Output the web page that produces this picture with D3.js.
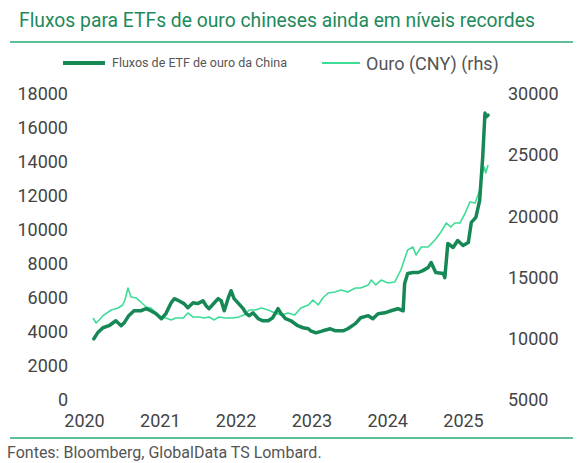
<!DOCTYPE html>
<html>
<head>
<meta charset="utf-8">
<script src="https://cdn.jsdelivr.net/npm/d3@7"></script>
<style>
  html, body { margin: 0; padding: 0; background: #fff; }
  svg { display: block; font-family: Roboto, "Noto Sans", sans-serif; }
</style>
</head>
<body>
<div id="chart"></div>
<script>
// China gold ETF flows (left axis), decimal year + value
var etfTime = [2020.13, 2020.18, 2020.25, 2020.33, 2020.42, 2020.49, 2020.53, 2020.59, 2020.66, 2020.75,
  2020.82, 2020.88, 2020.95, 2021.02, 2021.08, 2021.15, 2021.19, 2021.25, 2021.32, 2021.37,
  2021.44, 2021.50, 2021.57, 2021.61, 2021.65, 2021.72, 2021.77, 2021.81, 2021.85, 2021.90,
  2021.94, 2021.98, 2022.04, 2022.10, 2022.14, 2022.18, 2022.23, 2022.30, 2022.36, 2022.43,
  2022.49, 2022.56, 2022.60, 2022.66, 2022.73, 2022.82, 2022.89, 2022.96, 2022.99, 2023.06,
  2023.15, 2023.25, 2023.32, 2023.42, 2023.48, 2023.58, 2023.65, 2023.75, 2023.81, 2023.88,
  2023.97, 2024.05, 2024.14, 2024.21, 2024.23, 2024.27, 2024.34, 2024.41, 2024.47, 2024.54,
  2024.58, 2024.64, 2024.74, 2024.76, 2024.80, 2024.87, 2024.93, 2025.00, 2025.07, 2025.11,
  2025.17, 2025.22, 2025.26, 2025.29, 2025.30, 2025.33];
var etfValue = [3600, 3950, 4250, 4370, 4660, 4370, 4540, 4960, 5250, 5250,
  5370, 5250, 5080, 4780, 5080, 5720, 5960, 5840, 5670, 5430,
  5720, 5670, 5840, 5550, 5370, 5720, 5960, 5840, 5250, 5960,
  6430, 5960, 5670, 5370, 5080, 4960, 5130, 4780, 4660, 4660,
  4840, 5370, 5080, 4780, 4660, 4370, 4250, 4190, 4070, 3950,
  4070, 4190, 4070, 4070, 4190, 4490, 4840, 4960, 4780, 5080,
  5130, 5250, 5370, 5250, 6850, 7440, 7500, 7500, 7610, 7790,
  8090, 7500, 7440, 7200, 9210, 8970, 9380, 9090, 9270, 10450,
  10740, 11740, 14280, 16880, 16640, 16760];

// Gold price in CNY (right axis)
var goldTime = [2020.12, 2020.16, 2020.20, 2020.26, 2020.36, 2020.45, 2020.51, 2020.54, 2020.58, 2020.62,
  2020.69, 2020.75, 2020.82, 2020.88, 2020.95, 2021.02, 2021.08, 2021.15, 2021.21, 2021.31,
  2021.37, 2021.44, 2021.52, 2021.58, 2021.65, 2021.72, 2021.78, 2021.87, 2021.97, 2022.04,
  2022.11, 2022.18, 2022.26, 2022.34, 2022.43, 2022.52, 2022.60, 2022.69, 2022.78, 2022.86,
  2022.96, 2023.02, 2023.09, 2023.15, 2023.22, 2023.31, 2023.39, 2023.48, 2023.58, 2023.65,
  2023.75, 2023.79, 2023.85, 2023.92, 2024.01, 2024.10, 2024.18, 2024.27, 2024.34, 2024.38,
  2024.45, 2024.54, 2024.63, 2024.70, 2024.78, 2024.84, 2024.89, 2024.96, 2025.03, 2025.09,
  2025.16, 2025.22, 2025.24, 2025.28, 2025.30, 2025.33];
var goldValue = [11700, 11290, 11540, 11940, 12350, 12520, 12760, 13170, 14150, 13420,
  13330, 13010, 12600, 12520, 12110, 11780, 11700, 11540, 11700, 11700,
  12110, 11780, 11780, 11700, 11780, 11540, 11780, 11700, 11700, 11780,
  11940, 12350, 12350, 12520, 12350, 12110, 11940, 12110, 11940, 12520,
  12760, 13170, 12760, 13330, 13740, 13820, 13990, 13820, 14150, 14150,
  14400, 14800, 14400, 14800, 14560, 14640, 15620, 17260, 17500, 16850,
  17500, 17500, 18070, 18640, 19460, 19130, 19460, 19460, 20280, 21180,
  21100, 22160, 23220, 24040, 23550, 24200];

var years = [2020, 2021, 2022, 2023, 2024, 2025];
var leftTicks = [0, 2000, 4000, 6000, 8000, 10000, 12000, 14000, 16000, 18000];
var rightTicks = [5000, 10000, 15000, 20000, 25000, 30000];

var titleText = "Fluxos para ETFs de ouro chineses ainda em níveis recordes";
var legendEtf = "Fluxos de ETF de ouro da China";
var legendGold = "Ouro (CNY) (rhs)";
var sourceText = "Fontes: Bloomberg, GlobalData TS Lombard.";

var width = 585, height = 463;
var darkGreen = "#158856", lightGreen = "#3ddc97", ruleGreen = "#5fbf98", labelColor = "#444";

var svg = d3.select("#chart").append("svg")
  .attr("width", width)
  .attr("height", height);

// scales
var x = d3.scaleLinear().domain([2020, 2025]).range([84, 463]);
var yLeft = d3.scaleLinear().domain([0, 18000]).range([400, 94]);
var yRight = d3.scaleLinear().domain([5000, 30000]).range([400, 94]);

// title + rules
svg.append("text")
  .attr("x", 19).attr("y", 27)
  .attr("font-size", 19.3)
  .attr("fill", "#1d8a5b")
  .text(titleText);

svg.append("line")
  .attr("x1", 10).attr("x2", 573)
  .attr("y1", 42).attr("y2", 42)
  .attr("stroke", ruleGreen).attr("stroke-width", 2);

svg.append("line")
  .attr("x1", 10).attr("x2", 573)
  .attr("y1", 438).attr("y2", 438)
  .attr("stroke", ruleGreen).attr("stroke-width", 2);

// legend
var legend = svg.append("g");
legend.append("line")
  .attr("x1", 63).attr("x2", 105).attr("y1", 63).attr("y2", 63)
  .attr("stroke", darkGreen).attr("stroke-width", 4);
legend.append("text")
  .attr("x", 112).attr("y", 67)
  .attr("font-size", 12.5).attr("fill", "#555")
  .text(legendEtf);
legend.append("line")
  .attr("x1", 322).attr("x2", 360).attr("y1", 63).attr("y2", 63)
  .attr("stroke", lightGreen).attr("stroke-width", 2);
legend.append("text")
  .attr("x", 366).attr("y", 70)
  .attr("font-size", 18).attr("fill", "#555")
  .text(legendGold);

// axes (labels only, no domain lines)
var axisLeft = svg.append("g")
  .attr("transform", "translate(68,0)")
  .call(d3.axisLeft(yLeft).tickValues(leftTicks).tickSize(0).tickPadding(0).tickFormat(d3.format("d")));
var axisRight = svg.append("g")
  .attr("transform", "translate(508,0)")
  .call(d3.axisRight(yRight).tickValues(rightTicks).tickSize(0).tickPadding(0).tickFormat(d3.format("d")));
var axisBottom = svg.append("g")
  .attr("transform", "translate(0,414)")
  .call(d3.axisBottom(x).tickValues(years).tickSize(0).tickPadding(0).tickFormat(d3.format("d")));

[axisLeft, axisRight, axisBottom].forEach(function(a) {
  a.select(".domain").remove();
  a.selectAll("text")
    .attr("font-family", "Roboto, sans-serif")
    .attr("font-size", 18)
    .attr("fill", labelColor);
});

// lines
var goldData = goldTime.map(function(t, i) { return { t: t, v: goldValue[i] }; });
var etfData = etfTime.map(function(t, i) { return { t: t, v: etfValue[i] }; });

svg.append("path")
  .datum(goldData)
  .attr("fill", "none")
  .attr("stroke", lightGreen)
  .attr("stroke-width", 1.6)
  .attr("stroke-linejoin", "round")
  .attr("d", d3.line().x(function(d) { return x(d.t); }).y(function(d) { return yRight(d.v); }));

svg.append("path")
  .datum(etfData)
  .attr("fill", "none")
  .attr("stroke", darkGreen)
  .attr("stroke-width", 3.5)
  .attr("stroke-linejoin", "round")
  .attr("stroke-linecap", "round")
  .attr("d", d3.line().x(function(d) { return x(d.t); }).y(function(d) { return yLeft(d.v); }));

// source
svg.append("text")
  .attr("x", 7).attr("y", 458)
  .attr("font-size", 16).attr("fill", "#555")
  .text(sourceText);
</script>
</body>
</html>
